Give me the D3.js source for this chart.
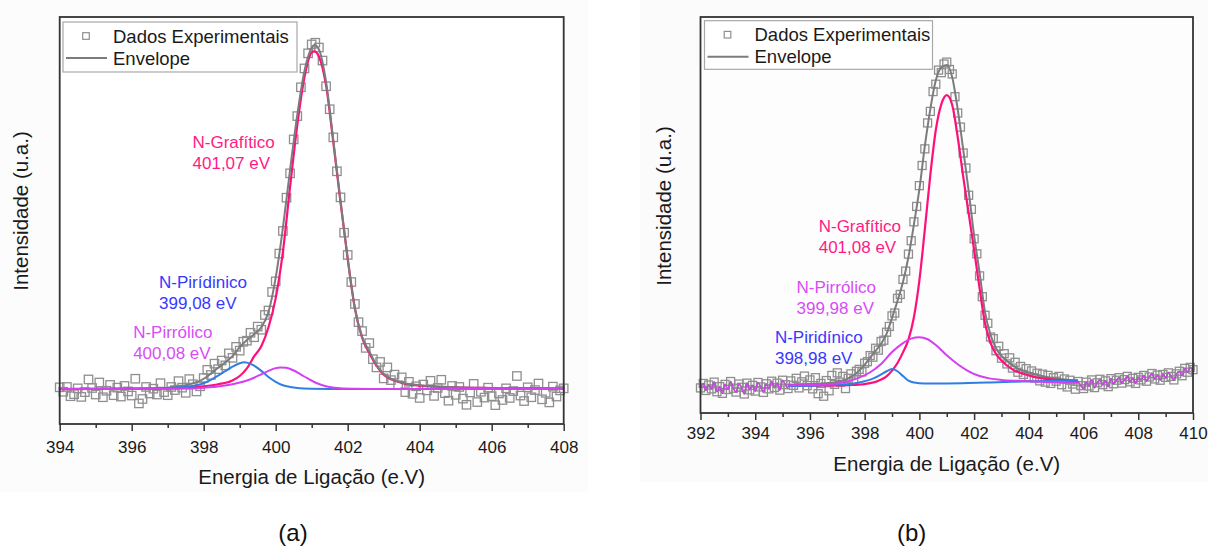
<!DOCTYPE html>
<html>
<head>
<meta charset="utf-8">
<script src="https://cdn.jsdelivr.net/npm/d3@7"></script>
<style>
  body { margin: 0; background: #fff; }
  svg { display: block; font-family: "Liberation Sans", Arial, sans-serif; }
</style>
</head>
<body>
<div id="chart"></div>
<script>
// ---------- panel (a) data : energy grid 394..408, step 0.1 eV
const energyA = d3.range(141).map(i => 394 + i / 10)
const intensityA = [
  0.5, -0.8, 0.6, -2.1, -1.5, 0.2, -2.3, -0.9, 2.8, 0.3,
  -1.6, 1.9, -2.4, -0.5, 1.2, -1.8, 0.4, -2.2, 0.9, -0.7,
  -1.9, 3.0, -4.2, -2.9, 0.6, -1.3, 0.1, -1.6, 1.7, -0.9,
  -1.8, 0.6, -0.3, 2.3, 0.4, -1.1, 2.9, 1.4, -0.7, 0.8,
  3.2, 5.6, 4.1, 7.4, 5.8, 8.3, 6.9, 10.4, 9.1, 12.3,
  11.2, 13.8, 14.1, 16.4, 15.1, 18.2, 17.3, 21.6, 22.9, 28.3,
  31.4, 39.5, 46.1, 55.8, 62.9, 72.8, 79.6, 88.0, 93.5, 97.9,
  100.5, 101.0, 99.6, 95.8, 88.3, 81.6, 73.4, 63.5, 55.9, 45.6,
  39.1, 31.2, 24.8, 19.5, 16.9, 12.0, 13.4, 8.7, 6.3, 7.9,
  3.1, 6.3, 2.6, 4.2, 1.1, 3.4, -0.9, 2.1, -1.4, 0.8,
  -2.6, 1.3, -0.4, 2.4, -2.0, 0.3, 2.7, -1.2, -3.4, 0.9,
  -1.7, 0.6, -2.8, -4.6, -1.0, 1.5, -3.8, -0.8, -2.5, 0.4,
  -2.1, -4.7, -1.3, -3.2, 0.2, -2.6, -0.6, 3.8, -1.9, -3.5,
  0.5, -2.4, -0.3, 1.6, -3.0, -1.1, -3.9, 0.7, -2.2, -0.4,
  0.2
]
const envelopeA = [[394,0],[396,0.1],[396.5,0.2],[397,0.4],[397.4,0.9],[397.8,2.0],[398,3.0],[398.2,4.5],
  [398.4,6.2],[398.6,7.8],[398.8,9.6],[399,12.2],[399.2,14.3],[399.4,16],[399.6,18],[399.8,22.5],[400,32.5],
  [400.2,47],[400.4,64],[400.6,80],[400.8,92.8],[401,99.5],[401.07,100.3],[401.2,99],[401.4,89.5],[401.6,72.6],
  [401.8,55],[402,38],[402.2,23.5],[402.4,15.2],[402.6,11],[402.8,7],[403,4.4],[403.5,1.9],[404,1.1],
  [405,0.5],[406,0.3],[408,0.2]]
const grafiticoA = [[394,0],[396,0.1],[397,0.2],[397.5,0.4],[398,0.8],[398.4,1.4],[398.8,2.5],[399,3.8],
  [399.2,6],[399.4,9.5],[399.6,12.5],[399.8,18],[400,26.5],[400.2,40],[400.4,59],[400.6,77],[400.8,91],
  [401,98.2],[401.07,98.5],[401.2,97],[401.4,88.5],[401.6,72],[401.8,54.5],[402,38],[402.2,23.5],[402.4,15],
  [402.6,10.5],[402.8,6.8],[403,4.2],[403.5,1.8],[404,1.0],[405,0.5],[406,0.3],[408,0.1]]
const piridinicoA = [[394,0],[396,0.05],[396.5,0.1],[397,0.3],[397.4,0.5],[397.8,1.1],[398,1.7],[398.2,2.7],
  [398.4,3.9],[398.6,5.2],[398.8,6.5],[399,7.5],[399.12,7.8],[399.2,7.7],[399.4,6.8],[399.6,5.3],[399.8,3.5],
  [400,2.1],[400.2,1.1],[400.4,0.6],[400.6,0.3],[401,0.1],[402,0],[408,0]]
const pirrolicoA = [[394,0],[397,0.05],[397.5,0.15],[398,0.4],[398.5,0.9],[398.8,1.4],[399,1.9],[399.2,2.5],
  [399.4,3.3],[399.6,4.3],[399.8,5.3],[400,6.1],[400.13,6.3],[400.3,6.2],[400.5,5.4],[400.7,4.2],[400.9,3.0],
  [401.1,1.9],[401.3,1.1],[401.5,0.6],[401.8,0.25],[402.2,0.1],[403,0],[408,0]]
const ticksA = [394, 396, 398, 400, 402, 404, 406, 408]
const minorA = [395, 397, 399, 401, 403, 405, 407]
const labelsA = [['N-Grafítico', '401,07 eV'], ['N-Pirídinico', '399,08 eV'], ['N-Pirrólico', '400,08 eV']]

// ---------- panel (b) data : energy grid 392..410, step 0.1 eV
const energyB = d3.range(181).map(i => 392 + i / 10)
const intensityB = [
  -0.6, 0.8, -1.4, 0.3, -0.9, 1.2, -1.8, -0.2, -2.3, 0.5,
  -1.1, 1.4, -0.7, -1.9, 0.6, -0.4, -2.5, 0.9, -1.2, 0.2,
  -1.6, 1.1, -0.3, -2.0, 0.7, -0.9, 1.5, -0.5, 0.9, -1.3,
  1.8, 0.4, -0.8, 1.6, 0.2, 2.4, -0.6, 1.3, 3.1, 0.1,
  1.9, -0.9, 2.6, -2.4, 0.8, -3.2, 1.7, -1.5, 3.3, 0.5,
  4.1, 1.2, 3.0, -0.8, 2.4, 3.8, 1.9, 4.6, 5.2, 4.4,
  7.1, 7.6, 9.5, 9.0, 11.8, 11.2, 13.9, 14.3, 16.8, 18.6,
  21.9, 22.8, 27.4, 28.6, 33.3, 35.9, 41.2, 45.4, 51.3, 56.1,
  62.6, 68.9, 74.1, 82.2, 85.8, 92.0, 94.3, 98.7, 97.9, 100.6,
  101.2, 98.9, 97.5, 90.4, 85.3, 80.9, 72.8, 68.1, 59.6, 55.2,
  46.0, 41.3, 34.4, 27.9, 22.1, 19.6, 15.3, 14.8, 11.0, 12.4,
  8.7, 10.1, 6.9, 8.8, 5.6, 7.4, 4.3, 6.1, 3.6, 5.4,
  2.9, 4.7, 2.5, 4.0, 1.6, 3.7, 1.2, 3.3, 0.8, 2.6,
  1.5, 3.0, 0.4, 2.2, -0.3, 1.8, 0.6, -1.0, 1.4, 0.1,
  -0.8, 1.2, 0.0, 1.9, -0.5, 1.0, 2.1, 0.4, 1.6, -0.2,
  2.3, 0.7, 1.8, 2.6, 0.9, 2.0, 3.0, 1.3, 2.4, 0.8,
  2.7, 1.9, 3.3, 1.5, 2.8, 3.9, 2.2, 3.4, 1.8, 3.6,
  2.7, 4.1, 3.0, 1.9, 3.8, 4.6, 3.2, 5.5, 4.3, 5.8,
  5.1
]
// fitted region only (outside of it the background follows the data)
const envelopeB = [[395.2,0.4],[395.6,0.5],[396,0.6],[396.4,0.8],[396.8,1.0],[397.2,1.7],[397.5,2.8],[397.8,4.8],
  [398,6.6],[398.2,8.9],[398.4,11],[398.6,13.2],[398.8,16.3],[399,21.3],[399.2,26.6],[399.4,32.5],[399.6,40.3],
  [399.8,50.5],[400,61.5],[400.2,75],[400.4,86.5],[400.6,95.5],[400.8,99.5],[401,100.3],[401.2,96.5],[401.4,86.5],
  [401.6,74],[401.8,61],[402,47],[402.2,35.5],[402.4,23],[402.6,16],[402.8,11.8],[403,9.5],[403.3,7.2],
  [403.6,5.4],[404,4.2],[404.4,3.3],[404.8,2.6],[405.2,2.1],[405.8,1.7]]
const grafiticoB = [[395.2,0.1],[396,0.1],[396.8,0.2],[397.4,0.3],[397.8,0.45],[398,0.6],[398.2,0.9],[398.4,1.3],
  [398.6,2.0],[398.8,3.0],[399,4.8],[399.2,7.2],[399.4,10.5],[399.6,14.5],[399.8,21.5],[400,33],[400.2,49],
  [400.4,66],[400.6,80],[400.8,88],[401,90.9],[401.2,87.8],[401.4,77.8],[401.6,65.5],[401.8,54],[402,42.5],
  [402.2,30.5],[402.4,19.5],[402.6,13.5],[402.8,10],[403,8],[403.4,5.2],[403.8,3.8],[404.2,2.8],[404.8,2.1],
  [405.4,1.7],[405.8,1.5]]
const pirrolicoB = [[395.2,0.2],[396,0.3],[396.6,0.5],[397,0.8],[397.4,1.5],[397.8,2.6],[398.2,4.3],[398.6,6.9],
  [399,10.6],[399.4,13.4],[399.7,14.8],[400,15.2],[400.3,14.6],[400.6,12.8],[401,9.6],[401.4,6.8],[401.8,4.6],
  [402.2,3.1],[402.6,2.3],[403,1.9],[403.6,1.6],[404.4,1.3],[405.2,1.1],[405.8,1.0]]
const piridinicoB = [[395.2,0],[396,0.1],[396.7,0.3],[397.2,0.5],[397.6,0.8],[398,1.5],[398.3,2.3],[398.6,3.6],
  [398.8,4.6],[399,5.3],[399.2,4.6],[399.4,3.1],[399.6,1.7],[399.8,1.1],[400.2,0.8],[401,0.8],[401.8,0.9],
  [402.6,1.1],[403.4,1.3],[404.2,1.5],[405,1.6],[405.8,1.7]]
const ticksB = [392, 394, 396, 398, 400, 402, 404, 406, 408, 410]
const minorB = [393, 395, 397, 399, 401, 403, 405, 407, 409]
const labelsB = [['N-Grafítico', '401,08 eV'], ['N-Pirrólico', '399,98 eV'], ['N-Piridínico', '398,98 eV']]

const legendItems = ['Dados Experimentais', 'Envelope']
const xTitle = 'Energia de Ligação (e.V)'
const yTitle = 'Intensidade (u.a.)'

// colours
const col = {
  data: '#8f8f8f', envelope: '#7c7c7c',
  pink: '#ff0f7b', blue: '#2f7fe3', magenta: '#d43ff2',
  pinkText: '#ff1a86', blueText: '#3838ff', magentaText: '#d94cf7',
  frame: '#333'
}

const width = 1208
const height = 548

const svg = d3.select('#chart')
  .append('svg')
  .attr('width', width)
  .attr('height', height)

// very faint grey page behind each picture
svg.append('rect').attr('x', 0).attr('y', 0).attr('width', 588).attr('height', 492).attr('fill', '#fcfcfc')
svg.append('rect').attr('x', 640).attr('y', 0).attr('width', 568).attr('height', 482).attr('fill', '#fbfbfb')

function drawPanel(p) {
  const x = d3.scaleLinear().domain(p.xDomain).range([p.left, p.right])
  const y = d3.scaleLinear().domain(p.yDomain).range([p.bottom, p.top])
  const g = svg.append('g')

  g.append('rect')
    .attr('x', p.left).attr('y', p.top)
    .attr('width', p.right - p.left).attr('height', p.bottom - p.top)
    .attr('fill', p.plotFill)

  // bottom axis: minor then major ticks
  const minorAx = g.append('g')
    .attr('transform', `translate(0,${p.bottom})`)
    .call(d3.axisBottom(x).tickValues(p.minor).tickSize(4).tickFormat(''))
  const majorAx = g.append('g')
    .attr('transform', `translate(0,${p.bottom})`)
    .call(d3.axisBottom(x).tickValues(p.ticks).tickSize(7).tickPadding(p.tickPad).tickFormat(d3.format('d')))
  minorAx.select('.domain').remove()
  majorAx.select('.domain').remove()
  g.selectAll('.tick line').attr('stroke', col.frame).attr('stroke-width', 1.5)
  majorAx.selectAll('text')
    .attr('font-family', '"Liberation Sans", Arial, sans-serif')
    .attr('font-size', 17)
    .attr('fill', '#1a1a1a')

  // experimental points
  g.append('g').selectAll('rect')
    .data(d3.zip(p.energy, p.intensity))
    .join('rect')
    .attr('x', d => x(d[0]) - p.sq / 2)
    .attr('y', d => y(d[1]) - p.sq / 2)
    .attr('width', p.sq)
    .attr('height', p.sq)
    .attr('fill', 'none')
    .attr('stroke', col.data)
    .attr('stroke-width', 1.3)

  const line = d3.line()
    .x(d => x(d[0]))
    .y(d => y(d[1]))
    .curve(d3.curveMonotoneX)

  p.curves.forEach(c => {
    g.append('path')
      .datum(c.points)
      .attr('d', line)
      .attr('fill', 'none')
      .attr('stroke', c.color)
      .attr('stroke-width', c.w)
  })

  // frame
  g.append('rect')
    .attr('x', p.left).attr('y', p.top)
    .attr('width', p.right - p.left).attr('height', p.bottom - p.top)
    .attr('fill', 'none')
    .attr('stroke', col.frame)
    .attr('stroke-width', 1.8)

  // legend
  const lg = g.append('g').attr('transform', `translate(${p.legend.x},${p.legend.y})`)
  lg.append('rect')
    .attr('width', p.legend.w).attr('height', p.legend.h)
    .attr('fill', '#fff').attr('stroke', '#a8a8a8').attr('stroke-width', 1.2)
  lg.append('rect')
    .attr('x', 23 - 3.3).attr('y', 14 - 3.3).attr('width', 6.6).attr('height', 6.6)
    .attr('fill', 'none').attr('stroke', col.data).attr('stroke-width', 1.2)
  lg.append('line')
    .attr('x1', 3).attr('x2', 44).attr('y1', 36).attr('y2', 36)
    .attr('stroke', col.envelope).attr('stroke-width', 2)
  lg.selectAll('text.leg')
    .data(legendItems)
    .join('text')
    .attr('class', 'leg')
    .attr('x', 50)
    .attr('y', (d, i) => 20.5 + i * 22)
    .attr('font-size', 18.5)
    .attr('fill', '#1a1a1a')
    .text(d => d)

  // peak labels
  p.labels.forEach((lab, i) => {
    const t = g.append('text')
      .attr('x', x(p.labelAt[i][0]))
      .attr('y', y(p.labelAt[i][1]))
      .attr('font-size', 17)
      .attr('fill', p.labelColors[i])
    lab.forEach((s, j) => {
      t.append('tspan').attr('x', x(p.labelAt[i][0])).attr('dy', j === 0 ? 0 : 21).text(s)
    })
  })

  // axis titles
  g.append('text')
    .attr('x', (p.left + p.right) / 2)
    .attr('y', p.xTitleY)
    .attr('text-anchor', 'middle')
    .attr('font-size', 20.5)
    .attr('fill', '#1a1a1a')
    .text(xTitle)
  g.append('text')
    .attr('transform', `translate(${p.yTitle[0]},${p.yTitle[1]}) rotate(-90)`)
    .attr('text-anchor', 'middle')
    .attr('dy', '0.35em')
    .attr('font-size', 20.5)
    .attr('fill', '#1a1a1a')
    .text(yTitle)

  svg.append('text')
    .attr('x', p.tag[0]).attr('y', p.tag[1])
    .attr('text-anchor', 'middle')
    .attr('font-size', 24)
    .attr('fill', '#111')
    .text(p.tagText)
}

drawPanel({
  left: 59.7, right: 563.7, top: 17, bottom: 424,
  xDomain: [394, 408], yDomain: [-10.2, 108.5],
  ticks: ticksA, minor: minorA, tickPad: 10,
  plotFill: '#fff', sq: 8.4,
  energy: energyA, intensity: intensityA,
  curves: [
    { points: grafiticoA, color: col.pink, w: 2.2 },
    { points: envelopeA, color: col.envelope, w: 2 },
    { points: piridinicoA, color: col.blue, w: 2 },
    { points: pirrolicoA, color: col.magenta, w: 2 }
  ],
  legend: { x: 63, y: 22, w: 234, h: 50 },
  labels: labelsA,
  labelAt: [[397.69, 70.35], [396.76, 29.36], [396.04, 14.96]],
  labelColors: [col.pinkText, col.blueText, col.magentaText],
  xTitleY: 484, yTitle: [21, 211],
  tag: [293, 541], tagText: '(a)'
})

// panel (b): outside the fitted window the background and envelope follow the data
const pointsB = d3.zip(energyB, intensityB)
const flankLeft = pointsB.filter(d => d[0] < 395.25)
const flankRight = pointsB.filter(d => d[0] > 405.75)

drawPanel({
  left: 700.5, right: 1193, top: 17, bottom: 413,
  xDomain: [392, 410], yDomain: [-8.44, 115.3],
  ticks: ticksB, minor: minorB, tickPad: 7,
  plotFill: '#fdfdfd', sq: 8,
  energy: energyB, intensity: intensityB,
  curves: [
    { points: envelopeB, color: col.envelope, w: 2 },
    { points: flankLeft, color: col.envelope, w: 1.6 },
    { points: flankRight, color: col.envelope, w: 1.6 },
    { points: grafiticoB, color: col.pink, w: 2.2 },
    { points: piridinicoB, color: col.blue, w: 2 },
    { points: pirrolicoB, color: col.magenta, w: 2 },
    { points: flankLeft, color: col.magenta, w: 1.2 },
    { points: flankRight, color: col.magenta, w: 1.2 }
  ],
  legend: { x: 704.5, y: 20.7, w: 228, h: 48.6 },
  labels: labelsB,
  labelAt: [[396.32, 48.1], [395.51, 29.0], [394.72, 13.3]],
  labelColors: [col.pinkText, col.magentaText, col.blueText],
  xTitleY: 471, yTitle: [663.5, 206],
  tag: [911.7, 541], tagText: '(b)'
})
</script>
</body>
</html>
